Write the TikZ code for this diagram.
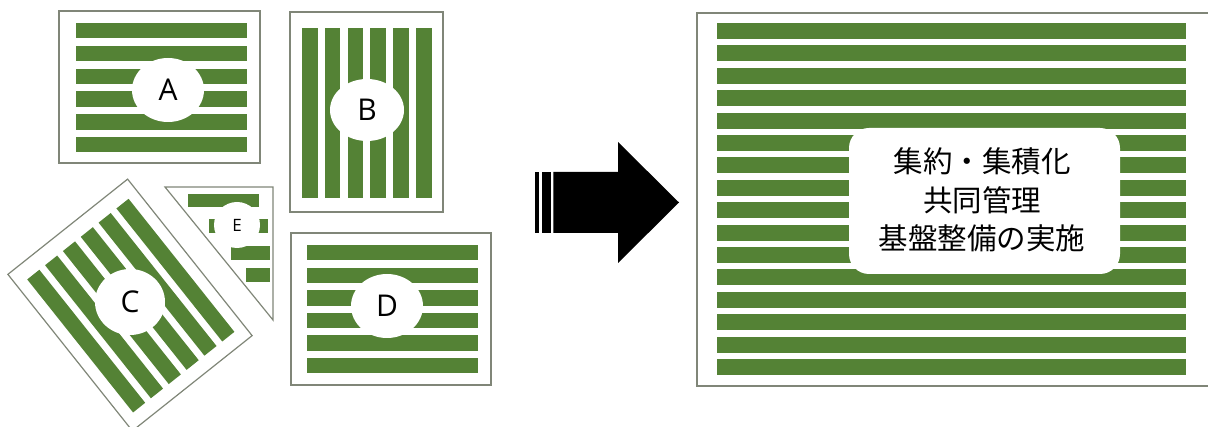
\documentclass[tikz,border=0pt]{standalone}
\usepackage{fontspec}
\setmainfont{Open Sans}
\newfontfamily\jpfont{Noto Sans CJK JP}
\usetikzlibrary{shapes.geometric}
\definecolor{fgreen}{RGB}{84,130,53}
\definecolor{framec}{RGB}{128,134,120}
\tikzset{
  stripe/.style={fill=fgreen, draw=none},
  frame/.style={draw=framec, line width=1.2pt, fill=white},
  hole/.style={ellipse, fill=white, draw=none, inner sep=0pt,
    minimum width=72pt, minimum height=64pt, font=\fontsize{30}{30}\selectfont},
}
\begin{document}
\begin{tikzpicture}[x=1pt, y=-1pt]
\useasboundingbox (0,0) rectangle (1208,427);
\clip (0,0) rectangle (1208,427);
\fill[white] (0,0) rectangle (1208,427);

% ---------- Plot A ----------
\draw[frame] (59,11) rectangle (260,163);
\foreach \i in {0,...,5}
  \fill[stripe] (76,23+22.8*\i) rectangle (247,38.5+22.8*\i);
\node[hole] (A) at (168,90) {A};

% ---------- Plot B ----------
\draw[frame] (290,12) rectangle (443,212);
\foreach \i in {0,...,5}
  \fill[stripe] (302+22.8*\i,28) rectangle (317.5+22.8*\i,198);
\node[hole, minimum width=74pt, minimum height=62pt] (B) at (367,110) {B};

% ---------- Plot C (rotated) ----------
\begin{scope}[shift={(130,305)}, rotate=38.5]
  \draw[frame] (-76.5,-100) rectangle (76.5,100);
  \foreach \i in {0,...,5}
    \fill[stripe] (-64.5+22.8*\i,-84) rectangle (-49+22.8*\i,86);
\end{scope}
\node[hole, minimum width=70pt, minimum height=66pt] (C) at (130,302) {C};

% ---------- Plot E (triangle) ----------
\draw[frame] (165,187) -- (273,187) -- (273,320) -- cycle;
\fill[stripe] (188,194) rectangle (259,207);
\fill[stripe] (209,219) rectangle (268,233);
\fill[stripe] (231,246) rectangle (270,260);
\fill[stripe] (246,268) rectangle (270,282);
\node[hole, minimum width=46pt, minimum height=46pt, font=\fontsize{17}{17}\selectfont] (E) at (237,225) {E};

% ---------- Plot D ----------
\draw[frame] (291,233) rectangle (491,385);
\foreach \i in {0,...,5}
  \fill[stripe] (307,245+22.6*\i) rectangle (478,260.5+22.6*\i);
\node[hole] (D) at (387,306) {D};

% ---------- Arrow ----------
\fill[black] (535,172) rectangle (539.3,233);
\fill[black] (542.3,172) rectangle (550.7,233);
\fill[black] (553.3,172) -- (618,172) -- (618,142) -- (679,202.5)
  -- (618,263) -- (618,233) -- (553.3,233) -- cycle;

% ---------- Consolidated plot ----------
\draw[frame] (697,13) rectangle (1230,386);
\foreach \i in {0,...,15}
  \fill[stripe] (717,23+22.4*\i) rectangle (1186,39+22.4*\i);
\node[rectangle, rounded corners=20pt, fill=white, draw=none, inner sep=0pt,
  minimum width=271pt, minimum height=146pt] (box) at (984.5,201) {};
\node[align=center, font=\jpfont\fontsize{29.5}{38.5}\selectfont, inner sep=0pt]
  (txt) at (982,200) {集約・集積化\\共同管理\\基盤整備の実施};
\end{tikzpicture}
\end{document}
